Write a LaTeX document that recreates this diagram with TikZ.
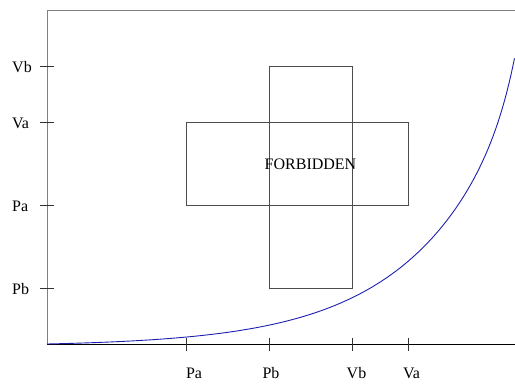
\documentclass[tikz,border=0pt]{standalone}
\usepackage{fontspec}
\setmainfont{Liberation Serif}
\definecolor{curveblue}{RGB}{30,30,175}
\begin{document}
\begin{tikzpicture}[x=1pt,y=-1pt,
  every node/.style={inner sep=0pt, font=\fontsize{16}{19}\selectfont},
  frame/.style={draw=gray, line width=0.8pt},
  axisline/.style={draw=black, line width=0.8pt},
  tickmark/.style={draw=black!80, line width=0.8pt},
  box/.style={draw=black!70, line width=0.8pt, minimum width=#1},
  curve/.style={draw=curveblue, line width=0.9pt}]
\useasboundingbox (0,0) rectangle (515,386);
% frame
\coordinate (o) at (47,344);
\coordinate (tl) at (47,10);
\coordinate (tr) at (515,10);
\coordinate (br) at (515,344);
\draw[frame] (o) -- (tl) -- (tr);
\draw[axisline] (o) -- (br);
% y ticks
\foreach \n/\y in {yvb/66, yva/122, ypa/205, ypb/288} {
  \coordinate (\n l) at (40,\y);
  \coordinate (\n r) at (54,\y);
  \draw[tickmark] (\n l) -- (\n r);
}
\node[anchor=west] (lyvb) at (12,67) {Vb};
\node[anchor=west] (lyva) at (12,123) {Va};
\node[anchor=west] (lypa) at (12,206) {Pa};
\node[anchor=west] (lypb) at (12,289) {Pb};
% x ticks
\foreach \n/\x in {xpa/186, xpb/269, xvb/352.5, xva/408.5} {
  \coordinate (\n t) at (\x,338);
  \coordinate (\n b) at (\x,351);
  \draw[tickmark] (\n t) -- (\n b);
}
\node (lxpa) at (194,373.5) {Pa};
\node (lxpb) at (271,373.5) {Pb};
\node (lxvb) at (356.5,373.5) {Vb};
\node (lxva) at (411.5,373.5) {Va};
% forbidden region
\node[box=222.5, minimum height=83] (hbox) at (297.25,163.5) {};
\node[box=83.5, minimum height=222] (vbox) at (310.75,177) {};
\node (forb) at (310.5,164) {FORBIDDEN};
% curve
\draw[curve] plot[domain=47:514.5, samples=160, smooth]
  (\x, {344 - 2.3*(exp(0.01*(\x-47))-1) - 42*exp(0.06*(\x-514.5))});
\end{tikzpicture}
\end{document}
